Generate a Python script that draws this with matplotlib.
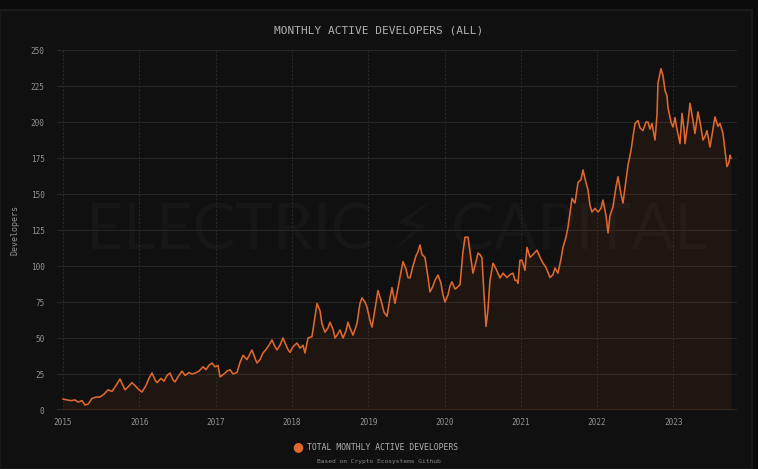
import numpy as np
import matplotlib.pyplot as plt
from matplotlib.patches import Rectangle

# decimal year of each reading, and active developers at that point
year = [
    2015.000, 2015.052, 2015.105, 2015.157, 2015.197, 2015.249, 2015.288, 2015.328, 2015.380, 2015.432,
    2015.485, 2015.537, 2015.590, 2015.642, 2015.695, 2015.747, 2015.786, 2015.813, 2015.852, 2015.904,
    2015.944, 2015.996, 2016.035, 2016.088, 2016.127, 2016.166, 2016.206, 2016.232, 2016.284, 2016.324,
    2016.363, 2016.402, 2016.442, 2016.468, 2016.507, 2016.560, 2016.599, 2016.651, 2016.691, 2016.730,
    2016.782, 2016.835, 2016.874, 2016.913, 2016.953, 2016.992, 2017.031, 2017.058, 2017.110, 2017.149,
    2017.189, 2017.228, 2017.280, 2017.320, 2017.359, 2017.411, 2017.451, 2017.477, 2017.516, 2017.543,
    2017.582, 2017.621, 2017.661, 2017.700, 2017.739, 2017.778, 2017.805, 2017.844, 2017.883, 2017.923,
    2017.949, 2017.975, 2018.014, 2018.067, 2018.106, 2018.145, 2018.172, 2018.211, 2018.263, 2018.303,
    2018.329, 2018.368, 2018.394, 2018.434, 2018.473, 2018.499, 2018.539, 2018.565, 2018.604, 2018.630,
    2018.670, 2018.709, 2018.735, 2018.761, 2018.801, 2018.853, 2018.892, 2018.919, 2018.958, 2018.984,
    2019.024, 2019.050, 2019.089, 2019.128, 2019.168, 2019.207, 2019.246, 2019.286, 2019.312, 2019.351,
    2019.391, 2019.430, 2019.456, 2019.495, 2019.522, 2019.548, 2019.587, 2019.626, 2019.653, 2019.679,
    2019.705, 2019.744, 2019.784, 2019.810, 2019.849, 2019.875, 2019.915, 2019.954, 2019.980, 2020.006,
    2020.046, 2020.072, 2020.098, 2020.138, 2020.164, 2020.203, 2020.242, 2020.269, 2020.308, 2020.334,
    2020.373, 2020.413, 2020.439, 2020.465, 2020.491, 2020.518, 2020.544, 2020.570, 2020.596, 2020.636,
    2020.675, 2020.727, 2020.767, 2020.819, 2020.858, 2020.898, 2020.924, 2020.950, 2020.963, 2020.989,
    2021.016, 2021.055, 2021.081, 2021.121, 2021.160, 2021.212, 2021.252, 2021.291, 2021.330, 2021.383,
    2021.422, 2021.448, 2021.487, 2021.527, 2021.553, 2021.592, 2021.619, 2021.645, 2021.671, 2021.710,
    2021.750, 2021.789, 2021.815, 2021.854, 2021.881, 2021.907, 2021.933, 2021.972, 2022.012, 2022.051,
    2022.077, 2022.117, 2022.143, 2022.169, 2022.208, 2022.248, 2022.274, 2022.313, 2022.339, 2022.379,
    2022.405, 2022.444, 2022.470, 2022.497, 2022.536, 2022.562, 2022.601, 2022.641, 2022.667, 2022.693,
    2022.719, 2022.759, 2022.785, 2022.798, 2022.837, 2022.864, 2022.890, 2022.916, 2022.929, 2022.968,
    2022.995, 2023.021, 2023.047, 2023.086, 2023.113, 2023.139, 2023.152, 2023.191, 2023.218, 2023.244,
    2023.283, 2023.322, 2023.349, 2023.388, 2023.414, 2023.440, 2023.480, 2023.519, 2023.545, 2023.584,
    2023.611, 2023.650, 2023.676, 2023.702, 2023.728, 2023.742, 2023.755,
]
developers = [
    7.6, 7, 6.5, 7, 5.5, 6.5, 3.5, 4, 8, 9,
    9, 11, 14, 13, 17, 21.5, 17, 14, 16, 19,
    17, 14, 12.5, 17, 22, 25.7, 21, 19, 22, 20,
    24, 25.7, 21, 19.5, 23, 27, 24, 26, 25, 25.6,
    27, 30, 28, 31, 32.6, 30, 31, 23, 25, 27,
    28, 25, 26, 33, 38, 35, 39, 41.7, 36, 32.6,
    35, 39.6, 42, 45, 48.6, 44, 41.7, 45, 50, 45,
    42, 40, 44, 46.5, 43, 45, 39.6, 50, 51, 65,
    74, 69, 60, 54, 57, 61, 56, 50, 53, 55.6,
    50, 55, 61, 57, 52, 60, 74, 77.8, 75, 71.5,
    62, 57.6, 70, 83, 76, 68, 65, 78, 85, 74,
    85, 96, 103, 98, 92, 91.7, 100, 107, 110, 114.6,
    108, 106, 92, 82, 86, 90, 93.7, 88, 80, 75,
    80, 86, 89, 84, 85, 87, 110, 120, 120, 110,
    95, 103, 109, 108, 105.6, 80, 58, 70, 90, 102,
    98, 91.7, 95, 92, 94, 95, 90, 90, 88, 104,
    104, 97, 113, 106, 108, 111, 106, 102, 99, 92,
    94, 98.6, 95, 105, 113, 120, 127, 137, 147, 143.7,
    158, 160, 166.7, 158, 152.8, 142, 137.5, 140, 137.5, 140,
    145.8, 135, 123, 135, 141, 155, 162, 150, 143.7, 160,
    170, 180, 189.6, 199, 201, 196, 194, 200, 200, 195,
    199, 187.5, 205, 227, 237, 232, 222, 218, 210, 200,
    196.5, 203, 195, 185, 206, 195, 185, 200, 213, 205,
    192, 207, 200, 187.5, 190, 194, 182.6, 195, 203.5, 197,
    199, 192, 180.6, 169, 172, 177, 175,
]
year_ticks = list(range(2015, 2024))
dev_ticks = [0, 25, 50, 75, 100, 125, 150, 175, 200, 225, 250]

orange = '#e0682f'
mono = 'DejaVu Sans Mono'

fig = plt.figure(figsize=(7.58, 4.69), dpi=100, facecolor='#0b0b0b')
# card behind the chart
fig.patches.append(Rectangle((0, 0), 752 / 758, 459 / 469, transform=fig.transFigure,
                             facecolor='#101010', edgecolor='#1c1c1c', linewidth=1.2, zorder=-1))

ax = fig.add_axes([57 / 758, 1 - 410 / 469, 680 / 758, 360 / 469])
ax.set_facecolor('none')
ax.set_zorder(1)

# watermark
ax.text(0.5, 0.5, 'ELECTRIC \u26a1 CAPITAL', transform=ax.transAxes, ha='center', va='center',
        fontsize=46, color='#161616', family=['Lato', 'DejaVu Sans'], zorder=0)

ax.fill_between(year, developers, 0, color='#d85a28', alpha=0.08, linewidth=0, zorder=2)
ax.plot(year, developers, color=orange, linewidth=1.15, zorder=3)

ax.set_xlim(2015 - 6 / 76.3, 2015 + 674 / 76.3)
ax.set_ylim(0, 250)
ax.set_xticks(year_ticks)
ax.set_xticklabels([str(y) for y in year_ticks])
ax.set_yticks(dev_ticks)
ax.set_yticklabels([str(v) for v in dev_ticks])

ax.grid(axis='y', color='#242424', linewidth=0.8)
ax.grid(axis='x', color='#2a2a2a', linewidth=0.7, linestyle=(0, (2, 2)))
ax.set_axisbelow(True)
ax.axhline(0, color='#3a2e24', linewidth=1.2, zorder=4)

for s in ax.spines.values():
    s.set_visible(False)
ax.tick_params(length=0, colors='#929292', labelsize=5.6)
ax.tick_params(axis='y', pad=9)
ax.tick_params(axis='x', pad=6)
for lab in ax.get_xticklabels() + ax.get_yticklabels():
    lab.set_family(mono)

ax.set_ylabel('Developers', family=mono, fontsize=6, color='#929292', labelpad=8)

fig.text(0.5, 1 - 30 / 469, 'MONTHLY ACTIVE DEVELOPERS (ALL)', ha='center', va='center',
         family=mono, fontsize=8, color='#b0b0b0')

fig.text(298 / 758, 1 - 447 / 469, '\u25cf', ha='center', va='center', fontsize=9,
         color=orange, family='DejaVu Sans')
fig.text(307 / 758, 1 - 447 / 469, 'TOTAL MONTHLY ACTIVE DEVELOPERS', ha='left', va='center',
         family=mono, fontsize=5.9, color='#b0b0b0')
fig.text(0.5, 1 - 461 / 469, 'Based on Crypto Ecosystems Github', ha='center', va='center',
         family=mono, fontsize=4.5, color='#8a8a8a')

fig.savefig('out.png', dpi=100, facecolor=fig.get_facecolor())
